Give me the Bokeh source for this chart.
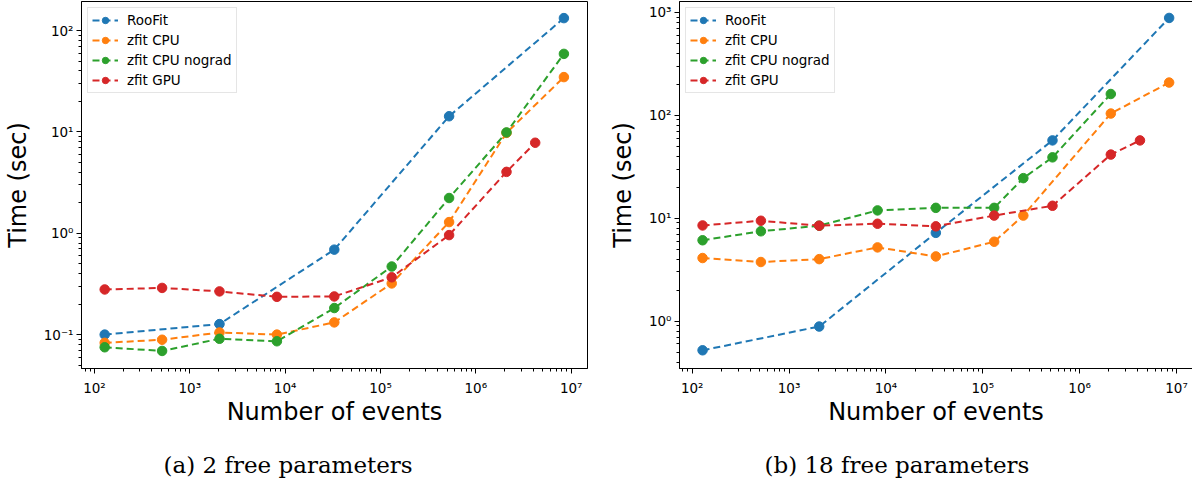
from bokeh.plotting import figure
from bokeh.layouts import row
from bokeh.models import Range1d, FixedTicker, Title
from bokeh.embed import file_html
from bokeh.resources import INLINE

# ---------------- data ----------------
series_names = ["RooFit", "zfit CPU", "zfit CPU nograd", "zfit GPU"]
colors = ["#1f77b4", "#ff7f0e", "#2ca02c", "#d62728"]

# (a) 2 free parameters
a_roofit_x = [128, 2048, 32768, 524288, 8388608]
a_roofit_y = [0.100, 0.127, 0.69, 14.3, 133]
a_cpu_x = [128, 512, 2048, 8192, 32768, 131072, 524288, 2097152, 8388608]
a_cpu_y = [0.083, 0.089, 0.105, 0.100, 0.132, 0.32, 1.29, 9.8, 34.8]
a_nograd_x = [128, 512, 2048, 8192, 32768, 131072, 524288, 2097152, 8388608]
a_nograd_y = [0.075, 0.069, 0.091, 0.086, 0.183, 0.47, 2.23, 9.9, 59]
a_gpu_x = [128, 512, 2048, 8192, 32768, 131072, 524288, 2097152, 4194304]
a_gpu_y = [0.279, 0.289, 0.267, 0.236, 0.238, 0.368, 0.96, 4.04, 7.83]

# (b) 18 free parameters
b_roofit_x = [128, 2048, 32768, 524288, 8388608]
b_roofit_y = [0.52, 0.885, 7.2, 57, 883]
b_cpu_x = [128, 512, 2048, 8192, 32768, 131072, 262144, 2097152, 8388608]
b_cpu_y = [4.1, 3.75, 4.0, 5.2, 4.25, 5.9, 10.6, 104, 208]
b_nograd_x = [128, 512, 2048, 8192, 32768, 131072, 262144, 524288, 2097152]
b_nograd_y = [6.1, 7.46, 8.45, 11.9, 12.6, 12.6, 24.5, 39, 161]
b_gpu_x = [128, 512, 2048, 8192, 32768, 131072, 524288, 2097152, 4194304]
b_gpu_y = [8.5, 9.44, 8.45, 8.83, 8.33, 10.6, 13.2, 41.5, 57]

x_ticks = [1e2, 1e3, 1e4, 1e5, 1e6, 1e7]
x_tick_labels = ["10²", "10³", "10⁴", "10⁵", "10⁶", "10⁷"]
a_y_ticks = [1e-1, 1e0, 1e1, 1e2]
a_y_tick_labels = ["10⁻¹", "10⁰", "10¹", "10²"]
b_y_ticks = [1e0, 1e1, 1e2, 1e3]
b_y_tick_labels = ["10⁰", "10¹", "10²", "10³"]

x_label = "Number of events"
y_label = "Time (sec)"
caption_a = "(a) 2 free parameters"
caption_b = "(b) 18 free parameters"


def minor_list(e0, e1):
    return [k * 10.0 ** e for e in range(e0, e1) for k in range(2, 10)]


def make_panel(series, xr, yr, yticks, ylabels, ymin_e, ymax_e,
               fw, fh, bl, br, caption, cap_offset):
    p = figure(x_axis_type="log", y_axis_type="log",
               x_range=Range1d(*xr), y_range=Range1d(*yr),
               frame_width=fw, frame_height=fh,
               min_border_left=bl, min_border_right=br,
               min_border_top=1, min_border_bottom=0,
               output_backend="svg", toolbar_location=None, title=None)
    p.xgrid.visible = False
    p.ygrid.visible = False
    p.outline_line_color = "black"
    p.outline_line_alpha = 1
    p.outline_line_width = 1
    p.background_fill_color = "white"
    p.border_fill_color = "white"

    p.xaxis.ticker = FixedTicker(ticks=x_ticks, minor_ticks=minor_list(1, 8))
    p.xaxis.major_label_overrides = dict(zip(x_ticks, x_tick_labels))
    p.yaxis.ticker = FixedTicker(ticks=yticks, minor_ticks=minor_list(ymin_e, ymax_e))
    p.yaxis.major_label_overrides = dict(zip(yticks, ylabels))

    for ax in (p.xaxis, p.yaxis):
        ax.axis_line_color = "black"
        ax.major_tick_line_color = "black"
        ax.minor_tick_line_color = "black"
        ax.major_tick_in = 0
        ax.major_tick_out = 5
        ax.minor_tick_in = 0
        ax.minor_tick_out = 3
        ax.major_label_text_font = "DejaVu Sans"
        ax.major_label_text_font_size = "13.5px"
        ax.major_label_text_color = "black"
        ax.axis_label_text_font = "DejaVu Sans"
        ax.axis_label_text_font_size = "24px"
        ax.axis_label_text_font_style = "normal"
        ax.axis_label_text_color = "black"
    p.xaxis.axis_label = x_label
    p.yaxis.axis_label = y_label
    p.xaxis.major_label_standoff = 6
    p.xaxis.axis_label_standoff = -1
    p.yaxis.major_label_standoff = 3
    p.yaxis.axis_label_standoff = 9

    for (name, xs, ys), c in zip(series, colors):
        p.line(xs, ys, line_color=c, line_width=2, line_dash="7 4",
               legend_label=name)
        p.scatter(xs, ys, marker="circle", size=9.5, fill_color=c,
                  line_color=c, legend_label=name)

    lg = p.legend[0]
    lg.location = "top_left"
    lg.margin = 6
    lg.padding = 4
    lg.spacing = 4
    lg.glyph_width = 26
    lg.glyph_height = 16
    lg.label_height = 16
    lg.label_standoff = 9
    lg.label_text_font = "DejaVu Sans"
    lg.label_text_font_size = "13.5px"
    lg.label_text_color = "black"
    lg.border_line_color = "#cccccc"
    lg.border_line_width = 1
    lg.background_fill_alpha = 0.8

    cap = Title(text=caption, align="left", offset=cap_offset,
                text_font="DejaVu Serif", text_font_size="23px",
                text_font_style="normal", text_color="black", standoff=42)
    p.add_layout(cap, "below")
    return p


pa = make_panel(
    [(series_names[0], a_roofit_x, a_roofit_y),
     (series_names[1], a_cpu_x, a_cpu_y),
     (series_names[2], a_nograd_x, a_nograd_y),
     (series_names[3], a_gpu_x, a_gpu_y)],
    (73.1, 1.483e7), (0.0463, 194.0), a_y_ticks, a_y_tick_labels, -2, 3,
    506, 367, 68, 18, caption_a, 82)

pb = make_panel(
    [(series_names[0], b_roofit_x, b_roofit_y),
     (series_names[1], b_cpu_x, b_cpu_y),
     (series_names[2], b_nograd_x, b_nograd_y),
     (series_names[3], b_gpu_x, b_gpu_y)],
    (73.96, 1.462e7), (0.346, 1276.0), b_y_ticks, b_y_tick_labels, -1, 4,
    513, 367, 70, 1, caption_b, 85)

layout = row(pa, pb)
open("out.html", "w").write(file_html(layout, INLINE))
